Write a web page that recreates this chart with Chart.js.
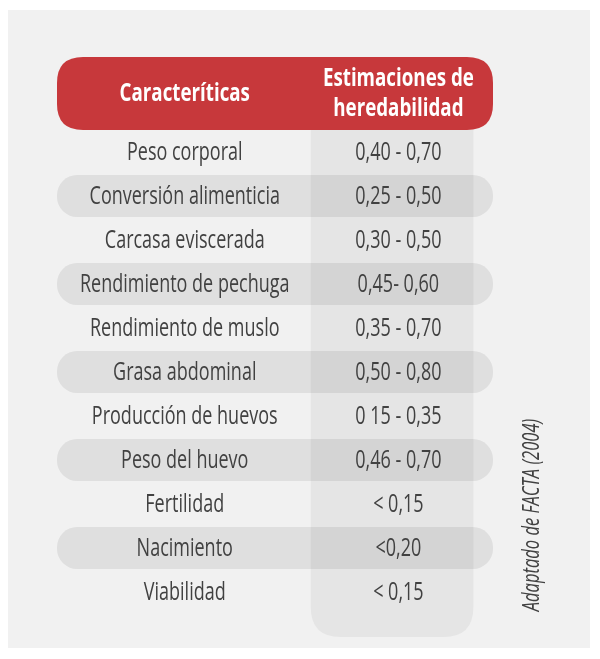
<!DOCTYPE html>
<html>
<head>
<meta charset="utf-8">
<script src="https://cdn.jsdelivr.net/npm/chart.js@4/dist/chart.umd.min.js"></script>
<style>
  html, body { margin: 0; padding: 0; background: #fff; }
  canvas { display: block; }
</style>
</head>
<body>
<canvas id="tabla" width="600" height="659"></canvas>
<script>
// Datos de la tabla (FACTA 2004)
const headerLeft = "Caracteríticas";
const headerRight = ["Estimaciones de", "heredabilidad"];
const characteristics = [
    "Peso corporal",
    "Conversión alimenticia",
    "Carcasa eviscerada",
    "Rendimiento de pechuga",
    "Rendimiento de muslo",
    "Grasa abdominal",
    "Producción de huevos",
    "Peso del huevo",
    "Fertilidad",
    "Nacimiento",
    "Viabilidad",
];
const heritability = [
    "0,40 - 0,70",
    "0,25 - 0,50",
    "0,30 - 0,50",
    "0,45- 0,60",
    "0,35 - 0,70",
    "0,50 - 0,80",
    "0 15 - 0,35",
    "0,46 - 0,70",
    "< 0,15",
    "<0,20",
    "< 0,15",
];
const shadedRows = [false, true, false, true, false, true, false, true, false, true, false];
const sourceNote = "Adaptado de FACTA (2004)";

const FONT = '"Open Sans", "Noto Sans", sans-serif';
const TEXT_COLOR = "#414141";
const RED = "#c7383b";
const PANEL = "#f1f1f1";
const COLUMN = "#e5e5e5";

// posiciones en unidades de la escala x (0 = borde izq. de la tabla, 1 = borde der.)
const COL_LEFT_TEXT = 0.293;
const COL_RIGHT_TEXT = 0.783;
const COL_BAND = [0.582, 0.955];

function roundRect(ctx, x, y, w, h, r) {
    const [tl, tr, br, bl] = Array.isArray(r) ? r : [r, r, r, r];
    ctx.beginPath();
    ctx.moveTo(x + tl, y);
    ctx.lineTo(x + w - tr, y);
    ctx.quadraticCurveTo(x + w, y, x + w, y + tr);
    ctx.lineTo(x + w, y + h - br);
    ctx.quadraticCurveTo(x + w, y + h, x + w - br, y + h);
    ctx.lineTo(x + bl, y + h);
    ctx.quadraticCurveTo(x, y + h, x, y + h - bl);
    ctx.lineTo(x, y + tl);
    ctx.quadraticCurveTo(x, y, x + tl, y);
    ctx.closePath();
}

// la fuente original es condensada: se estrecha en horizontal
function squeezedText(ctx, text, x, y, squeeze) {
    ctx.save();
    ctx.translate(x, y);
    ctx.scale(squeeze, 1);
    ctx.fillText(text, 0, 0);
    ctx.restore();
}

const tablePlugin = {
    id: "tablePlugin",
    beforeDraw(chart) {
        const { ctx, width, height } = chart;
        ctx.save();
        ctx.fillStyle = "#fff";
        ctx.fillRect(0, 0, width, height);
        ctx.fillStyle = PANEL;
        ctx.fillRect(8, 10, 582, 638);
        ctx.restore();
    },
    beforeDatasetsDraw(chart) {
        const { ctx, chartArea, scales } = chart;
        const x0 = scales.x.getPixelForValue(COL_BAND[0]);
        const x1 = scales.x.getPixelForValue(COL_BAND[1]);
        const rowH = chartArea.height / characteristics.length;
        ctx.save();
        ctx.fillStyle = COLUMN;
        roundRect(ctx, x0, chartArea.top, x1 - x0, chartArea.height + rowH * 0.52, [0, 0, 30, 30]);
        ctx.fill();
        ctx.restore();
    },
    afterDatasetsDraw(chart) {
        const { ctx, scales } = chart;
        const xl = scales.x.getPixelForValue(COL_LEFT_TEXT);
        const xr = scales.x.getPixelForValue(COL_RIGHT_TEXT);
        ctx.save();
        ctx.fillStyle = TEXT_COLOR;
        ctx.font = "500 25px " + FONT;
        ctx.textAlign = "center";
        ctx.textBaseline = "middle";
        characteristics.forEach((name, i) => {
            const y = scales.y.getPixelForValue(i) + 1;
            squeezedText(ctx, name, xl, y, 0.72);
            squeezedText(ctx, heritability[i], xr, y, 0.72);
        });
        ctx.restore();
    },
    afterDraw(chart) {
        const { ctx, chartArea, scales } = chart;
        const left = chartArea.left;
        const right = chartArea.right;
        const top = 57;
        const bottom = chartArea.top;
        ctx.save();
        ctx.fillStyle = RED;
        roundRect(ctx, left, top, right - left, bottom - top, 26);
        ctx.fill();

        ctx.fillStyle = "#fff";
        ctx.font = "bold 25px " + FONT;
        ctx.textAlign = "center";
        ctx.textBaseline = "middle";
        const mid = (top + bottom) / 2;
        squeezedText(ctx, headerLeft, scales.x.getPixelForValue(COL_LEFT_TEXT), mid, 0.75);
        const xr = scales.x.getPixelForValue(COL_RIGHT_TEXT);
        squeezedText(ctx, headerRight[0], xr, mid - 15, 0.75);
        squeezedText(ctx, headerRight[1], xr, mid + 15, 0.75);

        ctx.translate(532, 515);
        ctx.rotate(-Math.PI / 2);
        ctx.fillStyle = TEXT_COLOR;
        ctx.font = "italic 500 23px " + FONT;
        squeezedText(ctx, sourceNote, 0, 0, 0.72);
        ctx.restore();
    },
};

new Chart(document.getElementById("tabla"), {
    type: "bar",
    data: {
        labels: characteristics,
        datasets: [
            {
                data: shadedRows.map((s) => (s ? [0, 1] : null)),
                backgroundColor: "rgba(0, 0, 0, 0.075)",
                borderRadius: 20,
                borderSkipped: false,
                barPercentage: 0.95,
                categoryPercentage: 1,
            },
        ],
    },
    options: {
        indexAxis: "y",
        responsive: false,
        animation: false,
        devicePixelRatio: 1,
        layout: { padding: { left: 57, right: 107, top: 130, bottom: 45 } },
        scales: {
            x: { display: false, min: 0, max: 1 },
            y: { display: false },
        },
        plugins: {
            legend: { display: false },
            tooltip: { enabled: false },
        },
    },
    plugins: [tablePlugin],
});
</script>
</body>
</html>
